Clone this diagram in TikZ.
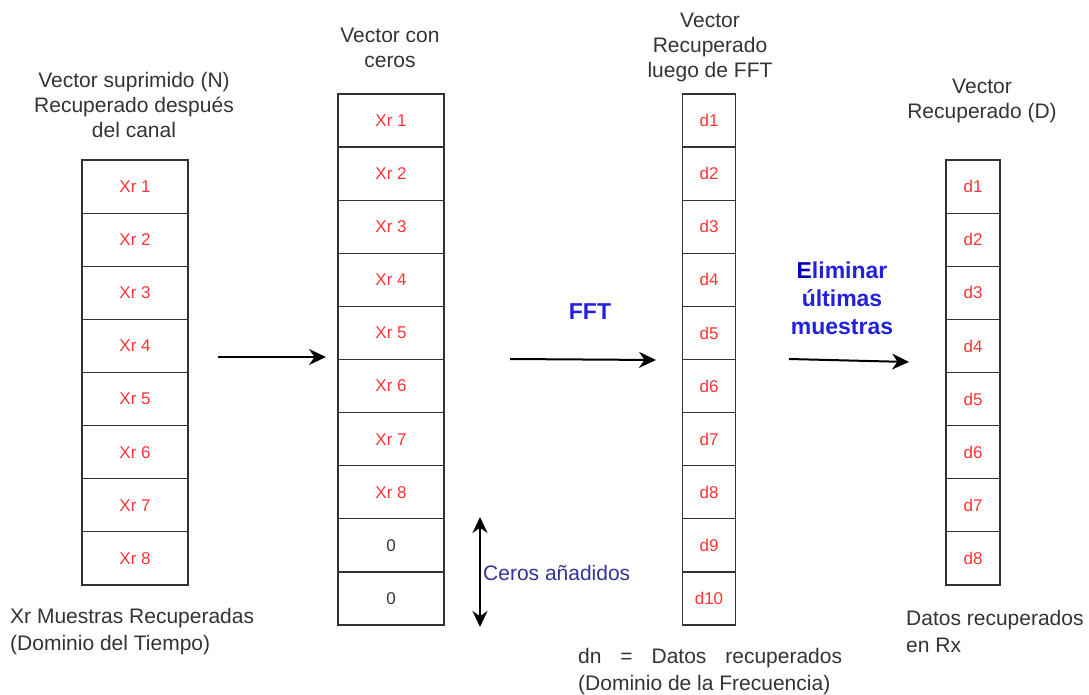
\documentclass[tikz,border=0pt]{standalone}
\usepackage{fontspec}
\setmainfont{Liberation Sans}
\usetikzlibrary{arrows.meta}
\definecolor{txt}{HTML}{333333}
\definecolor{cellred}{HTML}{FF3333}
\definecolor{lblue}{HTML}{333399}
\definecolor{bblue}{HTML}{2222DD}
\definecolor{eblue}{HTML}{0000BB}
\tikzset{
  cell/.style={draw=txt, line width=1.2pt, text=cellred, font=\fontsize{17}{20}\selectfont, inner sep=0pt, minimum height=53.1pt},
  wide/.style={minimum width=106pt},
  narrow/.style={minimum width=53pt},
  title/.style={text=txt, font=\fontsize{21}{25}\selectfont, align=center, inner sep=0pt},
  note/.style={text=txt, font=\fontsize{21}{27}\selectfont, align=left, inner sep=0pt, anchor=west},
  flow/.style={line width=2pt, -{Stealth[length=17pt,width=16pt]}},
  blbl/.style={text=bblue, font=\bfseries\fontsize{23}{28}\selectfont, align=center, inner sep=0pt}
}
\begin{document}
\begin{tikzpicture}[x=1pt,y=-1pt]
\useasboundingbox (0,0) rectangle (1089,695);
% column 1
\foreach \i in {1,...,8} {
  \node[cell, wide] (a\i) at (135, {160+53.125*(\i-0.5)}) {Xr \i};
}
% column 2
\foreach \i in {1,...,8} {
  \node[cell, wide] (b\i) at (391, {94+53.1*(\i-0.5)}) {Xr \i};
}
\node[cell, wide, text=txt] (b9) at (391, {94+53.1*8.5}) {0};
\node[cell, wide, text=txt] (b10) at (391, {94+53.1*9.5}) {0};
% column 3
\foreach \i in {1,...,10} {
  \node[cell, narrow] (c\i) at (709, {94+53.1*(\i-0.5)}) {d\i};
}
% column 4
\foreach \i in {1,...,8} {
  \node[cell, narrow, minimum width=54pt] (e\i) at (973, {160+53.125*(\i-0.5)}) {d\i};
}
% titles
\node[title] (t1) at (134,105) {Vector suprimido (N)\\Recuperado después\\del canal};
\node[title] (t2) at (390,48) {Vector con\\ceros};
\node[title] (t3) at (710,47) {Vector\\Recuperado\\luego de FFT};
\node[title] (t4) at (982,101) {Vector\\Recuperado (D)};
% arrows
\coordinate (p1s) at (218,357); \coordinate (p1e) at (326,357);
\coordinate (p2s) at (510,359); \coordinate (p2e) at (656,360);
\coordinate (p3s) at (789,359); \coordinate (p3e) at (909,362);
\draw[flow] (p1s) -- (p1e);
\draw[flow] (p2s) -- (p2e);
\draw[flow] (p3s) -- (p3e);
\node[blbl] (fft) at (590,312) {FFT};
\node[blbl] (elim) at (842,298) {{\color{eblue}E}liminar\\últimas\\muestras};
% double arrow
\coordinate (dzs) at (480,517); \coordinate (dze) at (480,627);
\draw[line width=2pt, {Stealth[length=16pt,width=15pt]}-{Stealth[length=16pt,width=15pt]}] (dzs) -- (dze);
\node[text=lblue, font=\fontsize{21}{25}\selectfont, inner sep=0pt, anchor=west] (ceros) at (483,573) {Ceros añadidos};
% notes
\node[note] (n1) at (10,632) {Xr Muestras Recuperadas\\(Dominio del Tiempo)};
\node[note] (n2) at (578,672) {dn\hspace{0.9em}=\hspace{0.9em}Datos\hspace{0.9em}recuperados\\(Dominio de la Frecuencia)};
\node[note] (n3) at (906,631) {Datos recuperados\\en Rx};
\end{tikzpicture}
\end{document}
